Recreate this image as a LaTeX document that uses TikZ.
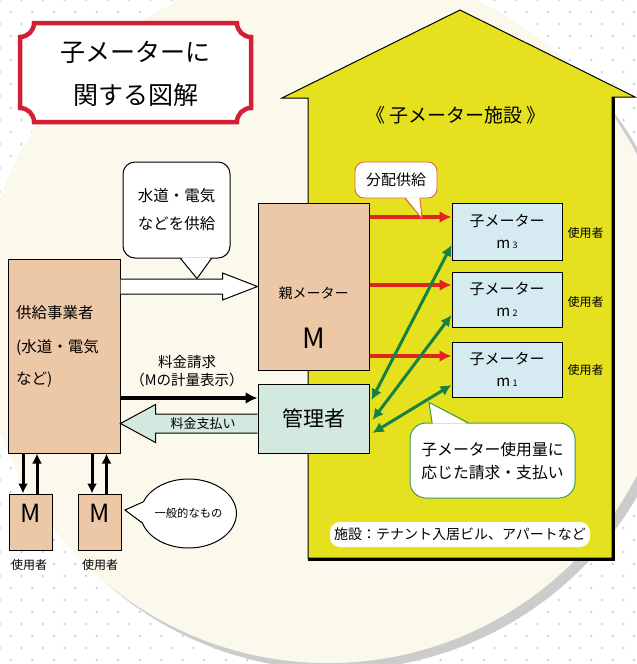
\documentclass[tikz,border=0pt]{standalone}
\usepackage{fontspec}
\setmainfont{Noto Sans CJK JP}
\usetikzlibrary{calc,arrows.meta,shapes.geometric}
\definecolor{cream}{HTML}{FBF9EC}
\definecolor{dotblue}{HTML}{C3D8E6}
\definecolor{houseyellow}{HTML}{E6E11E}
\definecolor{metertan}{HTML}{EDC8A6}
\definecolor{childblue}{HTML}{D6EAF2}
\definecolor{mgrgreen}{HTML}{D3E9DF}
\definecolor{arrred}{HTML}{E32222}
\definecolor{arrgreen}{HTML}{178043}
\definecolor{titlered}{HTML}{D21F36}
\definecolor{callred}{HTML}{E0603A}
\definecolor{callgreen}{HTML}{3E9A55}
\newcommand{\jfs}[1]{\fontsize{#1}{#1}\selectfont}
\tikzset{
  boxbase/.style={draw=black, line width=1pt, inner sep=0pt},
  tanbox/.style={boxbase, fill=metertan},
  childbox/.style={boxbase, fill=childblue, minimum width=110pt, align=center, font=\fontsize{15}{22}\selectfont},
  redarr/.style={draw=arrred, line width=3.4pt, -{Latex[length=12pt,width=12pt]}},
  greenarr/.style={draw=arrgreen, line width=3pt, {Latex[length=11pt,width=11pt]}-{Latex[length=11pt,width=11pt]}},
  blackarr/.style={draw=black, line width=3.2pt, -{Latex[length=12pt,width=12pt]}},
  smallarr/.style={draw=black, line width=3pt, -{Latex[length=10pt,width=10pt]}},
  callbox/.style={fill=white, line width=1pt, inner sep=0pt, align=center},
  user/.style={font=\jfs{12}, inner sep=0pt},
}
\begin{document}
\begin{tikzpicture}[x=1pt,y=1pt]
\useasboundingbox (0,0) rectangle (637,-664);
\clip (0,0) rectangle (637,-664);
% background
\fill[white] (0,0) rectangle (637,-664);
\foreach \j in {0,...,56} {
  \foreach \i in {0,...,30} {
    \fill[dotblue] ({\i*21.5+mod(\j,2)*10.75},{-\j*12}) circle (1.3);
  }
}
\fill[black!20] (336,-322) circle (348);
\fill[cream] (328,-315) circle (348);

% title box
\draw[titlered, line width=4.5pt, fill=white]
  (34,-23) -- (237,-23) arc[start angle=180,end angle=270,radius=14]
  -- (251,-108) arc[start angle=90,end angle=180,radius=14]
  -- (34,-122) arc[start angle=0,end angle=90,radius=14]
  -- (20,-37) arc[start angle=270,end angle=360,radius=14] -- cycle;
\node[font=\jfs{25}, inner sep=0pt] (title1) at (135.5,-52) {子メーターに};
\node[font=\jfs{25}, inner sep=0pt] (title2) at (135.5,-95) {関する図解};

% house
\fill[houseyellow, draw=black, line width=1pt]
  (308,-558) -- (308,-98) -- (282,-98) -- (460,-10) -- (635,-97) -- (612,-97) -- (612,-558) -- cycle;
\draw[line width=3pt] (613.5,-97) -- (613.5,-559.5) -- (308,-559.5);
\node[font=\jfs{19}, inner sep=0pt] (htitle) at (456,-115) {《 子メーター施設 》};

% main boxes
\node[tanbox, minimum width=112pt, minimum height=194pt] (sup) at (64,-356) {};
\node[font=\jfs{15.5}, inner sep=0pt, anchor=west] (supt1) at (16,-313) {供給事業者};
\node[font=\jfs{15.5}, inner sep=0pt, anchor=west] (supt2) at (16,-347) {(水道・電気};
\node[font=\jfs{15.5}, inner sep=0pt, anchor=west] (supt3) at (16,-380) {など)};

\node[tanbox, minimum width=111pt, minimum height=167pt] (pm) at (313.5,-286.5) {};
\node[font=\jfs{14}, inner sep=0pt] (pmt) at ($(pm.center)+(0,-6.5)$) {親メーター};
\node[font=\jfs{28}, inner sep=0pt] (pmm) at ($(pm.center)+(0,-51.5)$) {M};

\node[boxbase, fill=mgrgreen, minimum width=111pt, minimum height=69pt, font=\jfs{21}] (mg) at (313.5,-418.5) {管理者};

\node[childbox, minimum height=57pt] (m3) at (507,-231.5) {子メーター\\m\,{\jfs{9}3}};
\node[childbox, minimum height=55pt] (m2) at (507,-299.5) {子メーター\\m\,{\jfs{9}2}};
\node[childbox, minimum height=55pt] (m1) at (507,-369.5) {子メーター\\m\,{\jfs{9}1}};
\node[user] (u3) at ($(m3.east)+(23,-1.5)$) {使用者};
\node[user] (u2) at ($(m2.east)+(23,-2.5)$) {使用者};
\node[user] (u1) at ($(m1.east)+(23,-0.5)$) {使用者};

% red supply arrows
\coordinate (r3) at ($(m3.west)+(0,14.5)$);
\coordinate (r2) at ($(m2.west)+(0,14.5)$);
\coordinate (r1) at ($(m1.west)+(0,13.5)$);
\draw[redarr] (pm.east |- r3) -- (r3);
\draw[redarr] (pm.east |- r2) -- (r2);
\draw[redarr] (pm.east |- r1) -- (r1);

% green double arrows
\draw[greenarr] ($(mg.east)+(2,18.5)$) -- ($(m3.west)+(0,-13.5)$);
\draw[greenarr] ($(mg.east)+(3,-1.5)$) -- ($(m2.west)+(0,-15.5)$);
\draw[greenarr] ($(mg.east)+(3,-14.5)$) -- ($(m1.west)+(0,-15.5)$);

% hollow supply arrow
\draw[fill=white, line width=1pt]
  ($(sup.east |- pm.west)+(0,7.5)$) -- ($(pm.west)+(-35,7.5)$) -- ($(pm.west)+(-35,13.5)$)
  -- (pm.west) -- ($(pm.west)+(-35,-13.5)$) -- ($(pm.west)+(-35,-7.5)$)
  -- ($(sup.east |- pm.west)+(0,-7.5)$);

% billing arrow
\coordinate (b0) at ($(mg.west)+(0,20.5)$);
\draw[blackarr] (sup.east |- b0) -- (b0);
\node[font=\jfs{14.5}, inner sep=0pt] (bill1) at (187,-362) {料金請求};
\node[font=\jfs{14.5}, inner sep=0pt] (bill2) at (187,-380) {（Mの計量表示）};

% payment hollow arrow
\coordinate (p0) at ($(mg.west)+(0,-5)$);
\draw[fill=mgrgreen, line width=1pt]
  ($(p0)+(0,9.5)$) -- ($(sup.east |- p0)+(35,9.5)$) -- ($(sup.east |- p0)+(35,19)$)
  -- (sup.east |- p0) -- ($(sup.east |- p0)+(35,-19)$) -- ($(sup.east |- p0)+(35,-9.5)$)
  -- ($(p0)+(0,-9.5)$);
\node[font=\jfs{13}, inner sep=0pt] (pay) at (203,-424) {料金支払い};

% callout: supply
\node[callbox, draw=black, rounded corners=12pt, minimum width=107pt, minimum height=96pt,
      font=\fontsize{15.5}{28}\selectfont] (c1) at (176.5,-210) {水道・電気\\などを供給};
\fill[white] ($(c1.south)+(5,1.2)$) -- ($(c1.south)+(20.5,-20)$) -- ($(c1.south)+(34,1.2)$) -- cycle;
\draw[line width=1pt] ($(c1.south)+(4,0)$) -- ($(c1.south)+(20.5,-20)$) -- ($(c1.south)+(35,0)$);

% callout: distribution
\node[callbox, draw=callred, line width=0.9pt, rounded corners=9pt, minimum width=82pt, minimum height=36pt,
      font=\jfs{15}] (c2) at (396,-180) {分配供給};
\fill[white] ($(c2.south)+(10,1.2)$) -- ($(c2.south)+(26,-20)$) -- ($(c2.south)+(23.5,1.2)$) -- cycle;
\draw[callred, line width=0.9pt] ($(c2.south)+(9,0)$) -- ($(c2.south)+(26,-20)$) -- ($(c2.south)+(24,0)$);

% callout: sub-meter billing
\node[callbox, draw=callgreen, rounded corners=16pt, minimum width=165pt, minimum height=75pt,
      font=\fontsize{15.8}{23}\selectfont] (c3) at (492.5,-460.5) {子メーター使用量に\\応じた請求・支払い};
\fill[white] ($(c3.north)+(-59.5,-1.2)$) -- ($(c3.north)+(-63.5,20)$) -- ($(c3.north)+(-25.5,-1.2)$) -- cycle;
\draw[callgreen, line width=1pt] ($(c3.north)+(-60.5,0)$) -- ($(c3.north)+(-63.5,20)$) -- ($(c3.north)+(-24.5,0)$);

% facility note
\node[fill=white, rounded corners=10pt, minimum width=260pt, minimum height=25pt, inner sep=0pt,
      font=\jfs{14}] (fac) at (460,-534.5) {施設：テナント入居ビル、アパートなど};

% ordinary meters
\node[tanbox, minimum width=43pt, minimum height=56pt] (um1) at (30.5,-522) {};
\node[tanbox, minimum width=43pt, minimum height=56pt] (um2) at (99.5,-522) {};
\node[font=\jfs{25}, inner sep=0pt] (um1t) at ($(um1.center)+(0,9)$) {M};
\node[font=\jfs{25}, inner sep=0pt] (um2t) at ($(um2.center)+(0,9)$) {M};
\coordinate (d1) at ($(um1.north)+(-7.5,0)$);
\coordinate (e1) at ($(um1.north)+(6.5,0)$);
\coordinate (d2) at ($(um2.north)+(-7.5,0)$);
\coordinate (e2) at ($(um2.north)+(7,0)$);
\draw[smallarr] (sup.south -| d1) -- (d1);
\draw[smallarr] (e1) -- (sup.south -| e1);
\draw[smallarr] (sup.south -| d2) -- (d2);
\draw[smallarr] (e2) -- (sup.south -| e2);
\node[user] (uu1) at ($(um1.south)+(-1.5,-14)$) {使用者};
\node[user] (uu2) at ($(um2.south)+(0.5,-14)$) {使用者};

% callout: general
\node[ellipse, draw=black, fill=white, line width=1pt, minimum width=83pt, minimum height=69pt, inner sep=0pt,
      font=\jfs{11.3}] (c4) at (188.5,-513.5) {一般的なもの};
\coordinate (c4tip) at (125,-510);
\fill[white] ($(c4.166)+(1.5,0)$) -- (c4tip) -- ($(c4.191)+(1.5,0)$) -- cycle;
\draw[line width=1pt] (c4.166) -- (c4tip) -- (c4.191);
\end{tikzpicture}
\end{document}
